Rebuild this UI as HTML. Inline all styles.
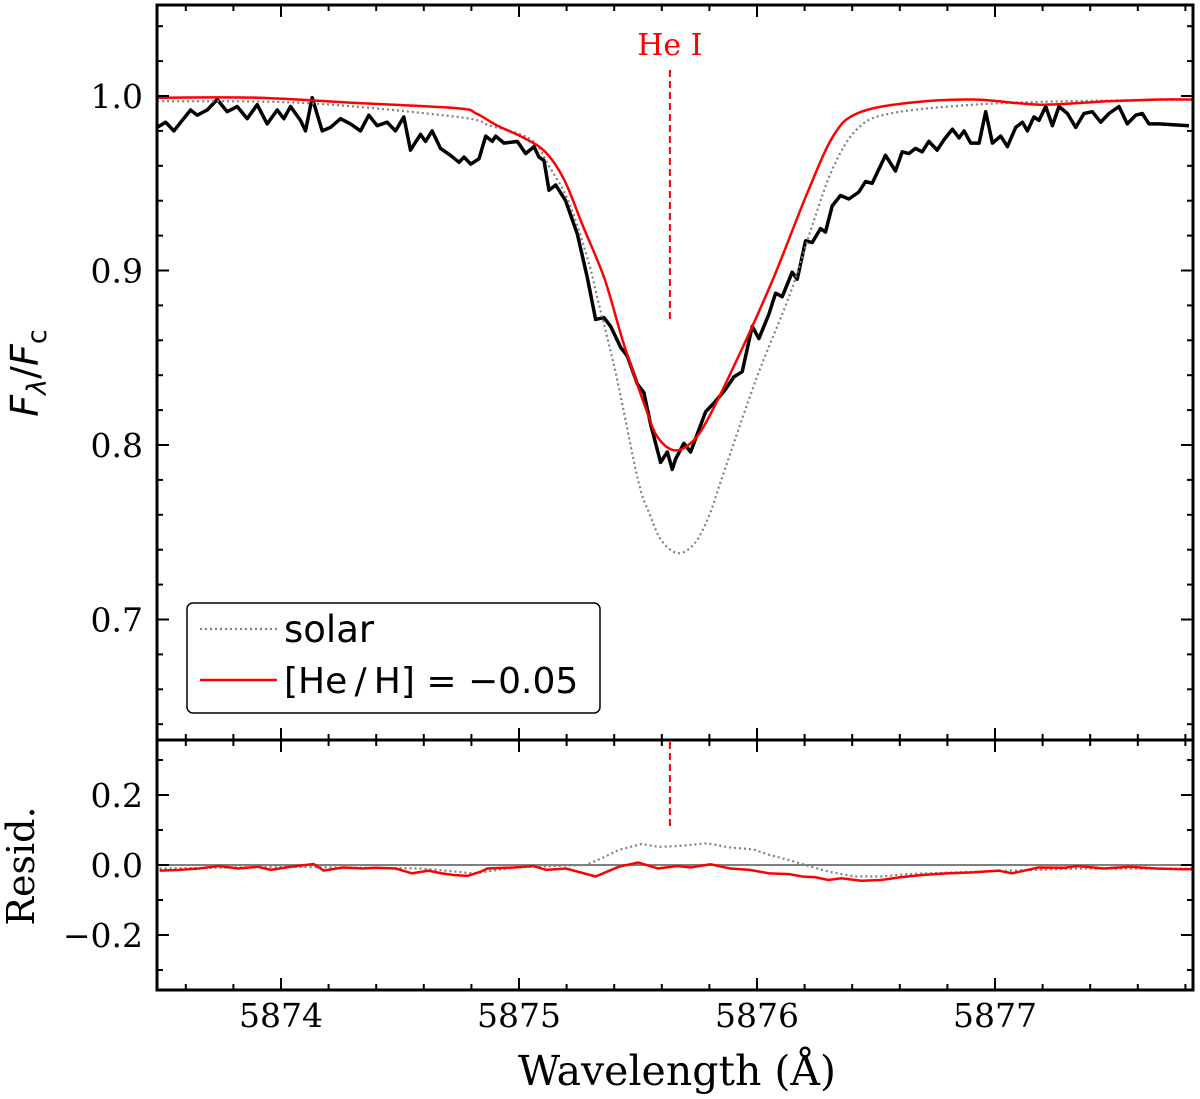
<!DOCTYPE html>
<html><head><meta charset="utf-8"><style>
body{margin:0;background:#fff;width:1200px;height:1099px;overflow:hidden}
svg{display:block}
.tk{font-family:"DejaVu Serif","Liberation Serif",serif;font-size:33px;fill:#000}
</style></head><body>
<svg id="chart" width="1200" height="1099" viewBox="0 0 1200 1099" xmlns="http://www.w3.org/2000/svg"></svg>
<script>
const obsWave=[5873.480,5873.515,5873.550,5873.585,5873.620,5873.648,5873.690,5873.732,5873.774,5873.816,5873.858,5873.900,5873.942,5873.984,5874.012,5874.040,5874.082,5874.103,5874.131,5874.173,5874.208,5874.250,5874.292,5874.334,5874.369,5874.404,5874.446,5874.481,5874.516,5874.544,5874.586,5874.607,5874.635,5874.670,5874.712,5874.748,5874.769,5874.797,5874.832,5874.860,5874.888,5874.902,5874.937,5874.993,5875.028,5875.063,5875.084,5875.105,5875.126,5875.154,5875.196,5875.245,5875.287,5875.322,5875.357,5875.385,5875.427,5875.455,5875.497,5875.525,5875.553,5875.595,5875.623,5875.644,5875.658,5875.693,5875.721,5875.784,5875.819,5875.868,5875.903,5875.938,5875.980,5876.008,5876.050,5876.078,5876.106,5876.148,5876.169,5876.204,5876.232,5876.267,5876.288,5876.316,5876.351,5876.386,5876.428,5876.456,5876.484,5876.505,5876.540,5876.582,5876.610,5876.638,5876.666,5876.694,5876.722,5876.757,5876.786,5876.821,5876.849,5876.870,5876.898,5876.933,5876.961,5876.989,5877.024,5877.052,5877.087,5877.115,5877.136,5877.164,5877.185,5877.213,5877.241,5877.269,5877.304,5877.339,5877.374,5877.409,5877.444,5877.479,5877.521,5877.556,5877.591,5877.619,5877.647,5877.689,5877.815];
const obsFlux=[0.982,0.985,0.980,0.986,0.992,0.989,0.992,0.998,0.991,0.994,0.987,0.995,0.984,0.992,0.987,0.994,0.986,0.980,0.999,0.980,0.982,0.987,0.984,0.980,0.989,0.983,0.985,0.980,0.988,0.969,0.978,0.974,0.980,0.970,0.966,0.962,0.965,0.961,0.964,0.977,0.974,0.977,0.973,0.974,0.967,0.971,0.965,0.963,0.946,0.949,0.940,0.921,0.896,0.872,0.873,0.868,0.856,0.851,0.835,0.830,0.812,0.790,0.796,0.786,0.792,0.801,0.796,0.819,0.824,0.832,0.839,0.842,0.868,0.861,0.875,0.887,0.885,0.899,0.895,0.917,0.916,0.924,0.922,0.937,0.943,0.941,0.945,0.951,0.950,0.956,0.966,0.957,0.968,0.967,0.970,0.968,0.974,0.969,0.975,0.981,0.976,0.980,0.973,0.973,0.991,0.973,0.977,0.971,0.982,0.985,0.980,0.988,0.986,0.994,0.983,0.994,0.990,0.982,0.990,0.991,0.985,0.990,0.994,0.984,0.989,0.990,0.984,0.984,0.983];
const fitWave=[5873.48,5873.90,5874.32,5874.74,5874.82,5874.91,5875.02,5875.11,5875.19,5875.27,5875.36,5875.44,5875.53,5875.58,5875.65,5875.72,5875.79,5875.93,5876.07,5876.21,5876.32,5876.42,5876.63,5876.91,5877.19,5877.47,5877.69,5877.83];
const fitFlux=[0.999,0.999,0.996,0.993,0.990,0.983,0.976,0.968,0.952,0.925,0.895,0.858,0.822,0.805,0.797,0.801,0.814,0.853,0.896,0.944,0.977,0.990,0.996,0.998,0.995,0.997,0.998,0.998];
const solWave=[5873.48,5874.10,5874.74,5874.88,5875.05,5875.13,5875.21,5875.29,5875.33,5875.41,5875.50,5875.55,5875.60,5875.67,5875.74,5875.80,5875.86,5876.00,5876.14,5876.24,5876.32,5876.42,5876.56,5876.91,5877.30,5877.83];
const solFlux=[0.997,0.996,0.988,0.983,0.975,0.959,0.939,0.906,0.884,0.839,0.780,0.760,0.745,0.738,0.744,0.760,0.784,0.839,0.887,0.929,0.959,0.981,0.990,0.995,0.997,0.998];
const resWave=[5873.490,5873.573,5873.655,5873.738,5873.821,5873.903,5873.958,5874.041,5874.137,5874.179,5874.261,5874.344,5874.399,5874.482,5874.551,5874.619,5874.675,5874.730,5874.785,5874.840,5874.867,5874.978,5875.060,5875.115,5875.198,5875.322,5875.418,5875.501,5875.584,5875.666,5875.721,5875.804,5875.887,5875.969,5876.052,5876.135,5876.190,5876.245,5876.300,5876.355,5876.438,5876.520,5876.603,5876.686,5876.796,5876.906,5877.016,5877.071,5877.182,5877.292,5877.347,5877.457,5877.567,5877.677,5877.787,5877.830];
const resFit=[-0.016,-0.014,-0.010,-0.003,-0.010,-0.005,-0.014,-0.005,0.003,-0.016,-0.007,-0.010,-0.008,-0.010,-0.024,-0.016,-0.024,-0.029,-0.031,-0.019,-0.010,-0.007,-0.003,-0.014,-0.010,-0.033,-0.005,0.007,-0.010,-0.003,-0.007,0.002,-0.010,-0.014,-0.024,-0.026,-0.033,-0.035,-0.043,-0.038,-0.045,-0.043,-0.035,-0.029,-0.024,-0.021,-0.016,-0.024,-0.007,-0.008,-0.003,-0.010,-0.005,-0.010,-0.012,-0.012];
const resSolWave=[5873.490,5874.041,5874.592,5874.812,5874.978,5875.143,5875.281,5875.363,5875.418,5875.515,5875.584,5875.666,5875.790,5875.887,5875.983,5876.052,5876.135,5876.217,5876.300,5876.410,5876.520,5876.631,5876.796,5877.071,5877.347,5877.830];
const resSol=[-0.010,-0.005,-0.010,-0.024,-0.007,-0.003,0.000,0.024,0.043,0.060,0.052,0.054,0.062,0.050,0.045,0.029,0.014,-0.003,-0.019,-0.033,-0.033,-0.026,-0.022,-0.016,-0.010,-0.010];
const xTicks=[5874,5875,5876,5877];
const yTicksTop=[0.7,0.8,0.9,1.0];
const yTicksBot=[-0.2,0.0,0.2];
const heWave=5875.634;

const NS="http://www.w3.org/2000/svg",svg=document.getElementById('chart');
const L=157,R=1193,T1=5,B1=740,B2=990;
const X=w=>281+(w-5874)*238;
const Y1=f=>96+(1-f)*1745;
const Y2=r=>865-r*350;
function el(t,a,p){const e=document.createElementNS(NS,t);for(const k in a)e.setAttribute(k,a[k]);(p||svg).appendChild(e);return e;}
const defs=el('defs',{});
(function(){const c=el('clipPath',{id:'c1'},defs);el('rect',{x:L,y:T1,width:R-L,height:B1-T1},c);
const c2=el('clipPath',{id:'c2'},defs);el('rect',{x:L,y:B1,width:R-L,height:B2-B1},c2);})();
function path(ws,vs,yf){return ws.map((w,i)=>(i?'L':'M')+X(w).toFixed(1)+' '+yf(vs[i]).toFixed(1)).join(' ');}
function smooth(ws,vs,yf){const P=ws.map((w,i)=>[X(w),yf(vs[i])]);let d='M'+P[0][0].toFixed(1)+' '+P[0][1].toFixed(1);
 for(let i=0;i<P.length-1;i++){const p0=P[Math.max(0,i-1)],p1=P[i],p2=P[i+1],p3=P[Math.min(P.length-1,i+2)];
  const c1=[p1[0]+(p2[0]-p0[0])/6,p1[1]+(p2[1]-p0[1])/6],c2=[p2[0]-(p3[0]-p1[0])/6,p2[1]-(p3[1]-p1[1])/6];
  d+=` C${c1[0].toFixed(1)} ${c1[1].toFixed(1)} ${c2[0].toFixed(1)} ${c2[1].toFixed(1)} ${p2[0].toFixed(1)} ${p2[1].toFixed(1)}`;}
 return d;}

const g1=el('g',{'clip-path':'url(#c1)'});


let p=el('path',{d:path(obsWave,obsFlux,Y1),fill:'none',stroke:'#000','stroke-width':3.5,'stroke-linejoin':'round'},g1);


p=el('path',{d:smooth(solWave,solFlux,Y1),fill:'none',stroke:'#808080','stroke-width':2.2,'stroke-dasharray':'2,3'},g1);


p=el('path',{d:smooth(fitWave,fitFlux,Y1),fill:'none',stroke:'#f00','stroke-width':2.5,'stroke-linejoin':'round'},g1);


p=el('line',{x1:X(heWave),x2:X(heWave),y1:70,y2:322,stroke:'#f00','stroke-width':2,'stroke-dasharray':'7,4'});


p=el('text',{x:X(heWave),y:55,'text-anchor':'middle',fill:'#f00','font-family':'"DejaVu Serif","Liberation Serif",serif','font-size':30});
p.textContent='He I';



const g2=el('g',{'clip-path':'url(#c2)'});


p=el('line',{x1:L,x2:R,y1:Y2(0),y2:Y2(0),stroke:'#808080','stroke-width':2},g2);


p=el('path',{d:path(resSolWave,resSol,Y2),fill:'none',stroke:'#808080','stroke-width':2.2,'stroke-dasharray':'2,3'},g2);


p=el('path',{d:path(resWave,resFit,Y2),fill:'none',stroke:'#f00','stroke-width':2.5},g2);


p=el('line',{x1:X(heWave),x2:X(heWave),y1:742,y2:828,stroke:'#f00','stroke-width':2,'stroke-dasharray':'7,4'});



function tick(x1,y1,x2,y2){el('line',{x1,y1,x2,y2,stroke:'#000','stroke-width':2});}
for(let w=5873.6;w<5877.85;w+=0.2){const x=X(w);const maj=Math.abs(w-Math.round(w))<0.01;const len=maj?12:6;
 for(const [yt,yb] of [[T1,B1],[B1,B2]]){tick(x,yt,x,yt+len);tick(x,yb,x,yb-len);}}
for(let f=0.64;f<1.05;f+=0.02){const y=Y1(f);const maj=Math.abs(f*10-Math.round(f*10))<0.01;const len=maj?12:6;tick(L,y,L+len,y);tick(R,y,R-len,y);}
for(let r=-0.3;r<0.35;r+=0.1){const y=Y2(r);const maj=Math.abs(r*5-Math.round(r*5))<0.01;const len=maj?12:6;tick(L,y,L+len,y);tick(R,y,R-len,y);}
xTicks.forEach(w=>{const t=el('text',{x:X(w),y:1027,'text-anchor':'middle',class:'tk'});t.textContent=w;
 
 });
yTicksTop.forEach(f=>{const t=el('text',{x:143,y:Y1(f)+12,'text-anchor':'end',class:'tk'});t.textContent=f.toFixed(1);
 
 });
yTicksBot.forEach(r=>{const t=el('text',{x:143,y:Y2(r)+12,'text-anchor':'end',class:'tk'});t.textContent=(r<0?'\u2212':'')+Math.abs(r).toFixed(1);
 
 });

p=el('rect',{x:L,y:T1,width:R-L,height:B2-T1,fill:'none',stroke:'#000','stroke-width':3});


el('line',{x1:L,x2:R,y1:B1,y2:B1,stroke:'#000','stroke-width':3});

const lg=el('g',{});


el('rect',{x:187,y:603,width:413,height:110,rx:6,fill:'#fff',stroke:'#000','stroke-width':1.5},lg);
el('line',{x1:200,x2:277,y1:629,y2:629,stroke:'#808080','stroke-width':2.2,'stroke-dasharray':'2,3'},lg);
el('line',{x1:200,x2:277,y1:680,y2:680,stroke:'#f00','stroke-width':2.5},lg);
let t=el('text',{x:284,y:642,'font-family':'"DejaVu Sans","Liberation Sans",sans-serif','font-size':37},lg);t.textContent='solar';


t=el('text',{x:284,y:693,'font-family':'"DejaVu Sans","Liberation Sans",sans-serif','font-size':36},lg);t.textContent='[He\u2009/\u2009H] = \u22120.05';



t=el('text',{x:677,y:1085,'text-anchor':'middle','font-family':'"DejaVu Serif","Liberation Serif",serif','font-size':41});t.textContent='Wavelength (Å)';


t=el('text',{transform:'translate(38,373) rotate(-90)','text-anchor':'middle','font-family':'"DejaVu Sans","Liberation Sans",sans-serif','font-size':38});
t.innerHTML='<tspan font-style="italic">F</tspan><tspan font-style="italic" font-size="27" dy="8">λ</tspan><tspan dy="-8">/</tspan><tspan font-style="italic">F</tspan><tspan font-size="27" dy="8">c</tspan>';


t=el('text',{transform:'translate(34,866) rotate(-90)','text-anchor':'middle','font-family':'"DejaVu Serif","Liberation Serif",serif','font-size':38});t.textContent='Resid.';


</script>
</body></html>
